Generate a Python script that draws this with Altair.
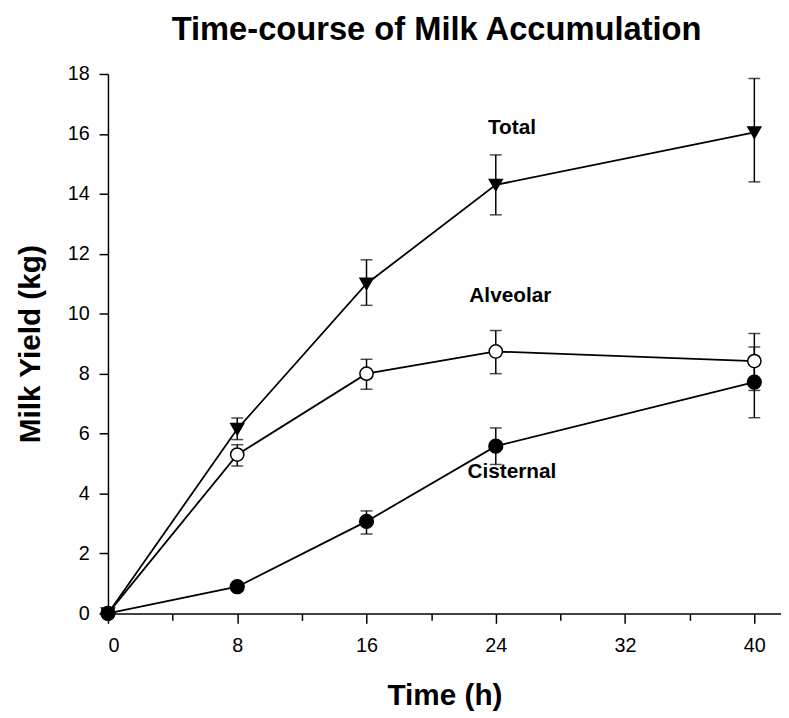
import altair as alt
import pandas as pd

# ---- data ----
time_h = [0, 8, 16, 24, 40]
series_names = ["Total", "Alveolar", "Cisternal"]

total_mean = [0, 6.15, 11.0, 14.3, 16.05]
total_lo = [None, 5.80, 10.28, 13.30, 14.40]
total_hi = [None, 6.52, 11.80, 15.30, 17.85]

alveolar_mean = [0, 5.30, 8.00, 8.74, 8.42]
alveolar_lo = [None, 4.92, 7.48, 8.00, 7.44]
alveolar_hi = [None, 5.63, 8.48, 9.44, 9.34]

cisternal_mean = [0, 0.89, 3.07, 5.58, 7.72]
cisternal_lo = [None, None, 2.65, 4.97, 6.53]
cisternal_hi = [None, None, 3.42, 6.19, 8.89]

label_text = ["Total", "Alveolar", "Cisternal"]
label_x = [25.0, 24.9, 25.0]
label_y = [16.2, 10.6, 4.73]

x_ticks = list(range(0, 42, 2))
y_ticks = list(range(0, 19, 2))

rows = []
for name, m, lo, hi in [
    ("Total", total_mean, total_lo, total_hi),
    ("Alveolar", alveolar_mean, alveolar_lo, alveolar_hi),
    ("Cisternal", cisternal_mean, cisternal_lo, cisternal_hi),
]:
    for t, v, l, h in zip(time_h, m, lo, hi):
        rows.append({"series": name, "time": t, "yield": v, "lo": l, "hi": h})
df = pd.DataFrame(rows)
err = df.dropna(subset=["lo", "hi"])
labels = pd.DataFrame({"text": label_text, "x": label_x, "y": label_y})

FONT = "Liberation Sans"
X_MAX = 41.65

xscale = alt.Scale(domain=[0, X_MAX], nice=False, zero=False)
yscale = alt.Scale(domain=[0, 18], nice=False)

x_main = alt.X(
    "time:Q", scale=xscale,
    axis=alt.Axis(values=x_ticks, title="Time (h)", orient="bottom",
                  labelExpr="datum.value % 8 === 0 ? datum.label : ''",
                  tickSize={"condition": {"test": "datum.value % 8 === 0", "value": 10}, "value": 7},
                  tickWidth=1.5, domainWidth=1.5, domainColor="black",
                  tickColor="black", labelFont=FONT, labelFontSize=20, labelColor="black",
                  labelPadding=12, titleFont=FONT, titleFontSize=30, titleFontWeight="bold",
                  titleColor="black", titlePadding=26, grid=False),
)
y_main = alt.Y(
    "yield:Q", scale=yscale,
    axis=alt.Axis(values=y_ticks, title="Milk Yield (kg)", tickSize=9,
                  tickWidth=1.5, domainWidth=1.5, domainColor="black", tickColor="black",
                  labelFont=FONT, labelFontSize=20, labelColor="black", labelPadding=10,
                  titleFont=FONT, titleFontSize=30, titleFontWeight="bold",
                  titleColor="black", titlePadding=22, grid=False),
)

base = alt.Chart(df)

lines = base.mark_line(color="black", strokeWidth=1.8).encode(
    x=x_main, y=y_main, detail="series:N"
)

stems = alt.Chart(err).mark_rule(color="black", strokeWidth=1.5).encode(
    x="time:Q", y="lo:Q", y2="hi:Q"
)
cap_lo = alt.Chart(err).mark_tick(color="black", thickness=1.5, size=12, orient="horizontal").encode(
    x="time:Q", y="lo:Q"
)
cap_hi = alt.Chart(err).mark_tick(color="black", thickness=1.5, size=12, orient="horizontal").encode(
    x="time:Q", y="hi:Q"
)

tot_pts = base.transform_filter(alt.datum.series == "Total").mark_point(
    shape="triangle-down", filled=True, fill="black", stroke="black", size=150, opacity=1
).encode(x="time:Q", y="yield:Q")
alv_pts = base.transform_filter(alt.datum.series == "Alveolar").mark_point(
    shape="circle", filled=True, fill="white", stroke="black", strokeWidth=1.5, size=180, opacity=1
).encode(x="time:Q", y="yield:Q")
cis_pts = base.transform_filter(alt.datum.series == "Cisternal").mark_point(
    shape="circle", filled=True, fill="black", stroke="black", size=180, opacity=1
).encode(x="time:Q", y="yield:Q")

texts = alt.Chart(labels).mark_text(
    font=FONT, fontSize=21, fontWeight="bold", color="black", align="center", baseline="middle"
).encode(x="x:Q", y="y:Q", text="text:N")

chart = alt.layer(
    lines, stems, cap_lo, cap_hi, tot_pts, alv_pts, cis_pts, texts
).properties(
    width=680,
    height=545,
    title=alt.TitleParams(
        "Time-course of Milk Accumulation", font=FONT, fontSize=33, fontWeight="bold",
        color="black", anchor="middle", offset=17, dx=-8
    ),
    autosize=alt.AutoSizeParams(type="none"),
    padding={"left": 101, "top": 63, "right": 0, "bottom": 102},
).configure_view(stroke=None)

chart.save("out.html", embed_options={"renderer": "svg", "actions": False})
